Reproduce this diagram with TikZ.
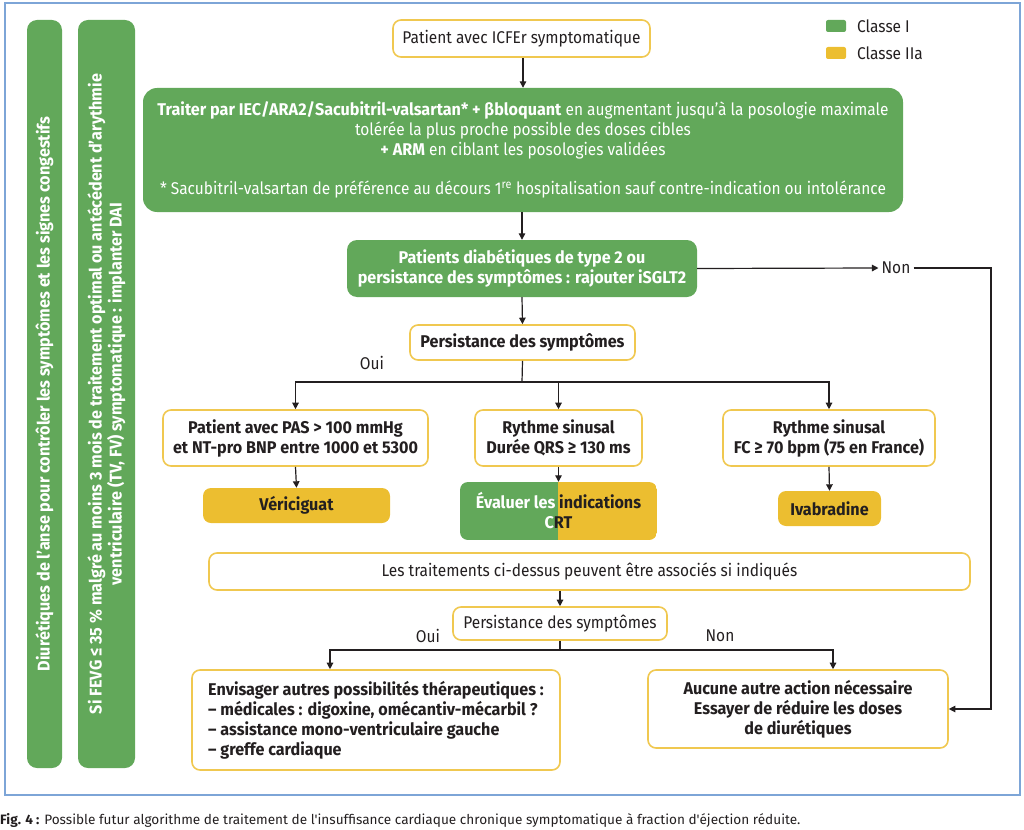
\documentclass[tikz,border=0pt]{standalone}
\usepackage{fontspec}
\setmainfont{Fira Sans}[FakeStretch=0.91, BoldFeatures={FakeStretch=0.95}]
\newfontfamily\legendefont{Fira Sans}
\usetikzlibrary{arrows.meta}
\definecolor{vert}{RGB}{98,168,90}
\definecolor{jaune}{RGB}{236,190,48}
\definecolor{bordjaune}{RGB}{240,200,80}
\definecolor{cadre}{RGB}{125,165,215}
\definecolor{texte}{RGB}{35,31,32}
\newcommand\taille{\fontsize{17}{20}\selectfont}
\tikzset{
	boite/.style	= {draw=bordjaune, line width=1.6pt, fill=white, rounded corners=8pt, align=center, inner sep=0pt, text=texte, font=\taille},
	vertbox/.style	= {fill=vert, rounded corners=10pt, align=center, inner sep=0pt, text=white, font=\taille},
	jaunebox/.style	= {fill=jaune, rounded corners=8pt, align=center, inner sep=0pt, text=texte, font=\taille\bfseries},
	fleche/.style	= {-{Triangle[length=6.5pt,width=6.5pt]}, line width=1.2pt, draw=texte},
	trait/.style	= {line width=1.2pt, draw=texte},
	etiq/.style		= {text=texte, font=\taille, inner sep=3pt},
}
\begin{document}
\begin{tikzpicture}[x=1pt, y=-1pt]
				% Cadre
				\useasboundingbox	(0,0)	rectangle	(1024,829);
				\draw [cadre, line width=2pt]	(5,3)	rectangle	(1020,795);
				% Barres verticales
				\node [vertbox, rotate=90, minimum width=748, minimum height=35, font=\taille\bfseries] (barre1) at (44.5,394) {Diurétiques de l'anse pour contrôler les symptômes et les signes congestifs};
				\node [vertbox, rotate=90, minimum width=748, minimum height=57, font=\taille\bfseries] (barre2) at (106.5,394) {Si FEVG ≤ 35 \% malgré au moins 3 mois de traitement optimal ou antécédent d'arythmie\\ ventriculaire (TV, FV) symptomatique : implanter DAI};
				% Légende
				\fill [vert, rounded corners=2pt]	(826,20)	rectangle	(846,32);
				\fill [jaune, rounded corners=2pt]	(826,47)	rectangle	(846,59);
				\node [etiq, anchor=west] (leg1) at (854,26) {Classe I};
				\node [etiq, anchor=west] (leg2) at (854,53) {Classe IIa};
				% Début
				\node [boite, minimum width=257, minimum height=37] (depart) at (521.5,38.5) {Patient avec ICFEr symptomatique};
				\node [vertbox, rounded corners=14pt, minimum width=760, minimum height=124] (traiter) at (523,150) {\textbf{Traiter par IEC/ARA2/Sacubitril-valsartan* + βbloquant} en augmentant jusqu'à la posologie maximale\\ tolérée la plus proche possible des doses cibles\\ \textbf{+ ARM} en ciblant les posologies validées\\[19pt] * Sacubitril-valsartan de préférence au décours 1\textsuperscript{re} hospitalisation sauf contre-indication ou intolérance};
				\node [vertbox, minimum width=350, minimum height=57, font=\taille\bfseries] (diab) at (522,268.5) {Patients diabétiques de type 2 ou\\ persistance des symptômes : rajouter iSGLT2};
				\node [boite, minimum width=225, minimum height=35, font=\taille\bfseries] (pers1) at (522.5,342.5) {Persistance des symptômes};
				\node [etiq] (non1) at (896,268) {Non};
				\node [etiq] (oui1) at (372,363) {Oui};
				% Trois branches
				\node [boite, minimum width=265, minimum height=56, font=\taille\bfseries] (pas) at (295.5,438) {Patient avec PAS > 100 mmHg\\ et NT-pro BNP entre 1000 et 5300};
				\node [boite, minimum width=167, minimum height=56, font=\taille\bfseries] (qrs) at (558.5,438) {Rythme sinusal\\ Durée QRS ≥ 130 ms};
				\node [boite, minimum width=212, minimum height=56, font=\taille\bfseries] (fc) at (829,438) {Rythme sinusal\\ FC ≥ 70 bpm (75 en France)};
				\node [jaunebox, minimum width=187, minimum height=35] (veri) at (296.5,505.5) {Vériciguat};
				\begin{scope}
					\clip [rounded corners=8pt]	(460,482)	rectangle	(657,540);
					\fill [vert]	(460,482)	rectangle	(558,540);
					\fill [jaune]	(558,482)	rectangle	(657,540);
				\end{scope}
				\node [align=center, inner sep=0pt, text=texte, font=\taille\bfseries, minimum width=197, minimum height=58] (crt) at (558.5,511) {\textcolor{white}{Évaluer les} indications\\ \textcolor{white}{C}RT};
				\node [jaunebox, minimum width=103, minimum height=35] (ivab) at (829.5,508.5) {Ivabradine};
				% Suite
				\node [boite, minimum width=761, minimum height=37] (assoc) at (589.5,571.5) {Les traitements ci-dessus peuvent être associés si indiqués};
				\node [boite, minimum width=214, minimum height=33] (pers2) at (560,623.5) {Persistance des symptômes};
				\node [etiq] (oui2) at (428,636) {Oui};
				\node [etiq] (non2) at (720,636) {Non};
				\node [boite, align=left, minimum width=368, minimum height=100, font=\taille\bfseries] (autres) at (376,720) {Envisager autres possibilités thérapeutiques :\\ – médicales : digoxine, omécantiv-mécarbil ?\\ – assistance mono-ventriculaire gauche\\ – greffe cardiaque};
				\node [boite, minimum width=300, minimum height=78, font=\taille\bfseries] (aucune) at (798,709) {Aucune autre action nécessaire\\ Essayer de réduire les doses\\ de diurétiques};
				% Flèches
				\coordinate (embr1) at (522,382);
				\coordinate (embr2) at (560,650);
				\coordinate (coinnon) at (991,268);
				\draw [fleche] (depart.south -| traiter.north) -- (traiter.north);
				\draw [fleche] (diab.north |- traiter.south) -- (diab.north);
				\draw [fleche] (diab.south) -- (pers1.north);
				\draw [fleche] (diab.east) -- (non1.west);
				\draw [fleche] (non1.east) -- (coinnon) |- (aucune.east);
				\draw [trait] (pers1.south) -- (embr1);
				\draw [fleche] (embr1) -| (pas.north);
				\draw [fleche] (embr1) -| (qrs.north);
				\draw [fleche] (embr1) -| (fc.north);
				\draw [fleche] (pas.south) -- (veri.north);
				\draw [fleche] (qrs.south) -- (crt.north);
				\draw [fleche] (fc.south) -- (ivab.north);
				\draw [fleche] (pers2.north |- assoc.south) -- (pers2.north);
				\draw [trait] (pers2.south) -- (embr2);
				\draw [fleche] (embr2) -| ([xshift=-46pt]autres.north);
				\draw [fleche] (embr2) -| ([xshift=35pt]aucune.north);
				% Légende de la figure
				\node [anchor=west, inner sep=0pt, text=texte, font=\legendefont\fontsize{13.6}{16}\selectfont] (titre) at (0,820) {\textbf{Fig. 4 :} Possible futur algorithme de traitement de l'insuffisance cardiaque chronique symptomatique à fraction d'éjection réduite.};
\end{tikzpicture}
\end{document}
